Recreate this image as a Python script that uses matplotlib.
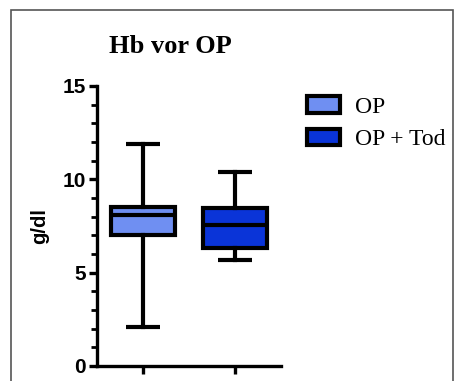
import matplotlib
matplotlib.use("Agg")
import matplotlib.pyplot as plt
import matplotlib.patches as patches
from matplotlib.ticker import MultipleLocator

# Box statistics (g/dl)
groups = ["OP", "OP + Tod"]
whisker_low = [2.1, 5.7]
q1 = [7.0, 6.3]
median = [8.1, 7.55]
q3 = [8.5, 8.45]
whisker_high = [11.9, 10.4]
colors = ["#6f8ff2", "#0a34d8"]

fig = plt.figure(figsize=(4.54, 3.81), dpi=100)
ax = fig.add_axes([0.2137, 0.0394, 0.4053, 0.735])

stats = [
    dict(label=g, whislo=lo, q1=a, med=m, q3=b, whishi=hi, fliers=[])
    for g, lo, a, m, b, hi in zip(groups, whisker_low, q1, median, q3, whisker_high)
]
lw = 3.0
bp = ax.bxp(stats, positions=[1, 2], widths=0.70, capwidths=0.36,
            patch_artist=True, showfliers=False,
            boxprops=dict(linewidth=lw, edgecolor="black"),
            medianprops=dict(color="black", linewidth=lw),
            whiskerprops=dict(color="black", linewidth=lw),
            capprops=dict(color="black", linewidth=lw, solid_capstyle="butt"))
for box, c in zip(bp["boxes"], colors):
    box.set_facecolor(c)

ax.set_xlim(0.5, 2.5)
ax.set_ylim(0, 15)
ax.set_xticks([1, 2])
ax.set_xticklabels([])
ax.yaxis.set_major_locator(MultipleLocator(5))
ax.yaxis.set_minor_locator(MultipleLocator(1))
for s in ("top", "right"):
    ax.spines[s].set_visible(False)
for s in ("left", "bottom"):
    ax.spines[s].set_linewidth(2.4)
ax.tick_params(axis="both", which="major", width=2.4, length=6, pad=2)
ax.tick_params(axis="y", which="minor", width=2.0, length=4)
for t in ax.get_yticklabels():
    t.set_fontfamily("Liberation Sans")
    t.set_fontweight("bold")
    t.set_fontsize(15)
ax.set_ylabel("g/dl", fontfamily="Liberation Sans", fontweight="bold",
              fontsize=14.5, labelpad=10)

fig.text(0.375, 0.877, "Hb vor OP", fontfamily="Liberation Serif",
         fontweight="bold", fontsize=19, ha="center", va="center")

handles = [patches.Patch(facecolor=c, edgecolor="black", linewidth=3.0)
           for c in colors]
fig.legend(handles, groups, loc="upper left", bbox_to_anchor=(0.676, 0.747),
           frameon=False, prop=dict(family="Liberation Serif", size=17),
           handlelength=1.4, handleheight=0.68, labelspacing=0.48,
           handletextpad=0.62, borderpad=0, borderaxespad=0)

# grey frame around the figure
fig.patches.append(patches.Rectangle((0.024, -0.1), 0.974, 1.074,
                                     transform=fig.transFigure, fill=False,
                                     edgecolor="#555555", linewidth=1.2))

fig.savefig("out.png", dpi=100)
